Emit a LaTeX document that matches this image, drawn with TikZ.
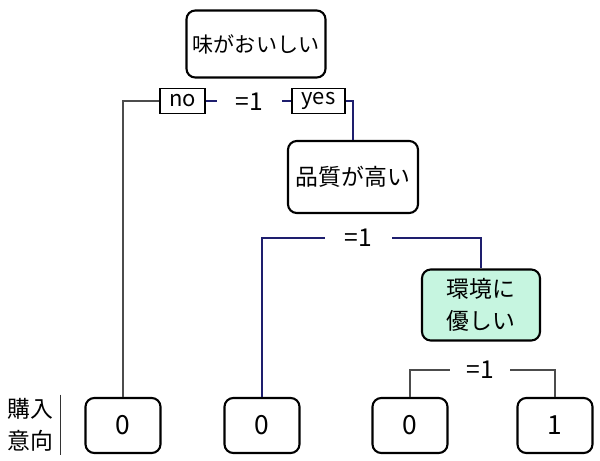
\documentclass[tikz,border=0pt]{standalone}
\usepackage{fontspec}
\setmainfont{Noto Sans CJK JP}
\usetikzlibrary{positioning}
\definecolor{navyline}{RGB}{30,30,110}
\definecolor{mint}{RGB}{198,245,224}

\begin{document}
\begin{tikzpicture}[
    qbox/.style={rectangle, rounded corners=5pt, draw=black, very thick, fill=white, align=center, font=\fontsize{12}{18}\selectfont},
    leaf/.style={rectangle, rounded corners=5pt, draw=black, very thick, fill=white, minimum width=1.5cm, minimum height=1.1cm, font=\fontsize{15}{17}\selectfont},
    tag/.style={rectangle, draw=black, thick, minimum height=0.5cm, inner sep=1pt, font=\fontsize{12.5}{14}\selectfont},
    eq/.style={minimum width=1.3cm, inner sep=0pt, font=\fontsize{14}{16}\selectfont},
    link/.style={navyline, semithick},
    link2/.style={black!70, semithick}]

    \useasboundingbox (0,0) rectangle (12,-9.2);

    % Level 1
    \node[qbox, minimum width=2.78cm, minimum height=1.34cm] (q1) at (5.12,-0.88) {味がおいしい};
    \node[tag, minimum width=0.9cm] (no) at (3.65,-2.02) {no};
    \node[eq] (eqA) at (4.99,-2.04) {=1};
    \node[tag, minimum width=1.06cm] (yes) at (6.37,-2.02) {yes};

    % Level 2
    \node[qbox, font=\fontsize{13}{18}\selectfont, minimum width=2.6cm, minimum height=1.44cm] (q2) at (7.06,-3.54) {品質が高い};
    \node[eq, minimum width=1.34cm] (eqB) at (7.17,-4.76) {=1};

    % Level 3
    \node[qbox, font=\fontsize{13}{18}\selectfont, fill=mint, minimum width=2.36cm, minimum height=1.42cm] (q3) at (9.62,-6.1) {環境に\\優しい};
    \node[eq, minimum width=1.2cm] (eqC) at (9.6,-7.4) {=1};

    % Leaves
    \node[leaf] (leaf1) at (2.46,-8.51) {0};
    \node[leaf] (leaf2) at (5.24,-8.51) {0};
    \node[leaf] (leaf3) at (8.2,-8.51) {0};
    \node[leaf] (leaf4) at (11.1,-8.51) {1};
    \node[align=center, minimum width=1.2cm, minimum height=1.2cm, inner sep=0pt, font=\fontsize{13}{18}\selectfont] (lbl) at (0.6,-8.5) {購入\\意向};

    \draw[link] (no) -- (no -| eqA.west);
    \draw[link] (eqA.east |- yes) -- (yes);
    \draw[link2] (no.west) -| (leaf1.north);
    \draw[link] (yes.east) -| (q2.north);
    \draw[link] (eqB.west) -| (leaf2.north);
    \draw[link] (eqB.east) -| (q3.north);
    \draw[link2] (eqC.west) -| (leaf3.north);
    \draw[link2] (eqC.east) -| (leaf4.north);
    \draw[black!80] (lbl.north east) -- (lbl.south east);

\end{tikzpicture}
\end{document}
